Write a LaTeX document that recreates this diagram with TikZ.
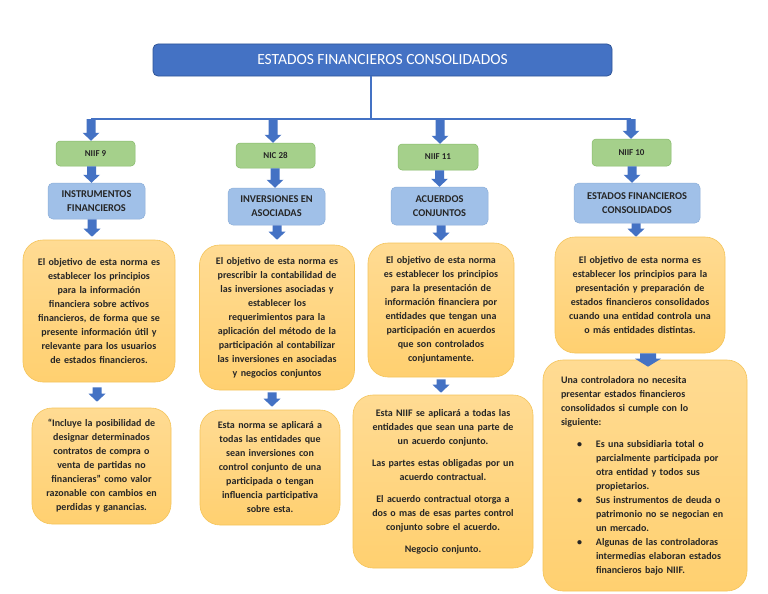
\documentclass[tikz,border=0pt]{standalone}
\usepackage{fontspec}
\setmainfont{Carlito}
\usetikzlibrary{calc}
\definecolor{arrowc}{HTML}{4472C4}
\definecolor{titlefill}{HTML}{4472C4}
\definecolor{titledraw}{HTML}{2F5597}
\definecolor{gfill}{HTML}{A5D08B}
\definecolor{gdraw}{HTML}{86BA69}
\definecolor{bfill}{HTML}{A0C0E8}
\definecolor{bdraw}{HTML}{8DAFD9}
\definecolor{ytop}{HTML}{FFDB93}
\definecolor{ybot}{HTML}{FFD070}
\definecolor{ydraw}{HTML}{F4C45A}
\definecolor{txt}{HTML}{262626}
\newcommand\barrow[4]{%
  \fill[arrowc] let \p1=(#1), \p2=(#2) in
    (\x2-#3,\y1) -- (\x2-#3,\y2+8pt) -- (\x2-#4,\y2+8pt) -- (\x2,\y2)
    -- (\x2+#4,\y2+8pt) -- (\x2+#3,\y2+8pt) -- (\x2+#3,\y1) -- cycle;}
\tikzset{
  box/.style={align=center, inner sep=0pt, text=txt},
  titlebox/.style={box, rounded corners=5pt, fill=titlefill, draw=titledraw, line width=0.8pt,
    text=white, font=\fontsize{15.5}{17}\selectfont},
  gbox/.style={box, rounded corners=4pt, fill=gfill, draw=gdraw, line width=0.5pt,
    font=\bfseries\fontsize{9}{10}\selectfont},
  bbox/.style={box, rounded corners=5pt, fill=bfill, draw=bdraw, line width=0.5pt,
    font=\bfseries\fontsize{10.4}{14}\selectfont},
  ybox/.style={box, rounded corners=20pt, top color=ytop, bottom color=ybot, draw=ydraw,
    line width=0.6pt, font=\bfseries\fontsize{10}{14}\selectfont},
  busline/.style={draw=arrowc, line width=1.8pt}
}
\begin{document}
\begin{tikzpicture}[x=1pt,y=-1pt]
\fill[white] (0,0) rectangle (768,594);
\useasboundingbox (0,0) rectangle (768,594);

% title
\node[titlebox, minimum width=459pt, minimum height=32pt] (title) at (382.5,60) {ESTADOS FINANCIEROS CONSOLIDADOS};

% green boxes
\node[gbox, minimum width=79pt, minimum height=25pt] (niif9) at (95.5,153.5) {NIIF 9};
\node[gbox, minimum width=79pt, minimum height=25pt] (nic28) at (275.5,155.5) {NIC 28};
\node[gbox, minimum width=80pt, minimum height=26pt] (niif11) at (438,157) {NIIF 11};
\node[gbox, minimum width=79pt, minimum height=27pt] (niif10) at (631.5,152.5) {NIIF 10};

% blue boxes
\node[bbox, minimum width=97pt, minimum height=36pt] (inst) at (96.5,201) {INSTRUMENTOS\\FINANCIEROS};
\node[bbox, minimum width=97pt, minimum height=37pt] (inv) at (276.5,206.5) {INVERSIONES EN\\ASOCIADAS};
\node[bbox, minimum width=97pt, minimum height=38pt] (acu) at (439.5,206) {ACUERDOS\\CONJUNTOS};
\node[bbox, minimum width=126pt, minimum height=40pt] (est) at (637,203) {ESTADOS FINANCIEROS\\CONSOLIDADOS};

% yellow boxes, first row
\node[ybox, minimum width=152pt, minimum height=142pt, text width=146pt] (y1) at (99,311)
 {El objetivo de esta norma es\\ establecer los principios\\ para la información\\ financiera sobre activos\\ financieros, de forma que se\\ presente información útil y\\ relevante para los usuarios\\ de estados financieros.};
\node[ybox, minimum width=155pt, minimum height=145pt, text width=149pt] (y2) at (277,317.5)
 {El objetivo de esta norma es\\ prescribir la contabilidad de\\ las inversiones asociadas y\\ establecer los\\ requerimientos para la\\ aplicación del método de la\\ participación al contabilizar\\ las inversiones en asociadas\\ y negocios conjuntos};
\node[ybox, minimum width=146pt, minimum height=134pt, text width=140pt] (y3) at (441,310)
 {El objetivo de esta norma\\ es establecer los principios\\ para la presentación de\\ información financiera por\\ entidades que tengan una\\ participación en acuerdos\\ que son controlados\\ conjuntamente.};
\node[ybox, minimum width=170pt, minimum height=116pt, text width=164pt] (y4) at (640,295)
 {El objetivo de esta norma es\\ establecer los principios para la\\ presentación y preparación de\\ estados financieros consolidados\\ cuando una entidad controla una\\ o más entidades distintas.};

% yellow boxes, second row
\node[ybox, minimum width=139pt, minimum height=116pt, text width=133pt] (b1) at (101.5,466)
 {“Incluye la posibilidad de\\ designar determinados\\ contratos de compra o\\ venta de partidas no\\ financieras” como valor\\ razonable con cambios en\\ perdidas y ganancias.};
\node[ybox, minimum width=140pt, minimum height=115pt, text width=134pt] (b2) at (270,467.5)
 {Esta norma se aplicará a\\ todas las entidades que\\ sean inversiones con\\ control conjunto de una\\ participada o tengan\\ influencia participativa\\ sobre esta.};
\node[ybox, minimum width=180pt, minimum height=173pt, text width=174pt] (b3) at (443,481.5)
 {Esta NIIF se aplicará a todas las\\ entidades que sean una parte de\\ un acuerdo conjunto.\\[8pt] Las partes estas obligadas por un\\ acuerdo contractual.\\[8pt] El acuerdo contractual otorga a\\ dos o mas de esas partes control\\ conjunto sobre el acuerdo.\\[8pt] Negocio conjunto.};
\node[ybox, align=left, minimum width=204pt, minimum height=231pt, text width=168pt] (b4) at (645,475.5)
 {\mbox{Una controladora no necesita}\\ \mbox{presentar estados financieros}\\ \mbox{consolidados si cumple con lo}\\ \mbox{siguiente:}\\[8pt]
  \mbox{\hspace*{16pt}\makebox[19pt][l]{\textbullet}Es una subsidiaria total o}\\
  \mbox{\hspace*{35pt}parcialmente participada por}\\
  \mbox{\hspace*{35pt}otra entidad y todos sus}\\
  \mbox{\hspace*{35pt}propietarios.}\\
  \mbox{\hspace*{16pt}\makebox[19pt][l]{\textbullet}Sus instrumentos de deuda o}\\
  \mbox{\hspace*{35pt}patrimonio no se negocian en}\\
  \mbox{\hspace*{35pt}un mercado.}\\
  \mbox{\hspace*{16pt}\makebox[19pt][l]{\textbullet}Algunas de las controladoras}\\
  \mbox{\hspace*{35pt}intermedias elaboran estados}\\
  \mbox{\hspace*{35pt}financieros bajo NIIF.}};

% bus lines
\coordinate (join) at (371,119);
\coordinate (bus1) at (91,119);
\coordinate (bus2) at (273,119);
\coordinate (bus3) at (440,119);
\coordinate (bus4) at (631,119);
\draw[busline] (title.south -| join) -- (join);
\draw[busline] (bus1) -- (bus4);

% arrows from bus
\barrow{bus1}{niif9.north -| bus1}{4.5pt}{8.5pt}
\barrow{bus2}{nic28.north -| bus2}{4.5pt}{8.5pt}
\barrow{bus3}{niif11.north -| bus3}{4.5pt}{8.5pt}
\barrow{bus4}{niif10.north -| bus4}{4.5pt}{8.5pt}

% column 1
\barrow{niif9.south}{[xshift=-5pt]inst.north}{4.5pt}{8.5pt}
\barrow{inst.south}{[xshift=-7pt,yshift=3pt]y1.north}{4.5pt}{8.5pt}
\barrow{[yshift=-5pt]y1.south}{[xshift=-4.5pt,yshift=6pt]b1.north}{4.5pt}{8.5pt}

% column 2
\barrow{nic28.south}{[xshift=-1.5pt]inv.north}{4.5pt}{8.5pt}
\barrow{inv.south}{[yshift=5pt]y2.north}{4.5pt}{8.5pt}
\barrow{[yshift=-2pt]y2.south}{[xshift=2pt,yshift=3pt]b2.north}{4.5pt}{8.5pt}

% column 3
\barrow{niif11.south}{acu.north}{4.5pt}{8.5pt}
\barrow{acu.south}{[yshift=2pt]y3.north}{4.5pt}{8.5pt}
\barrow{[yshift=-2pt]y3.south}{[xshift=-2pt,yshift=2pt]b3.north}{4.5pt}{8.5pt}

% column 4
\barrow{niif10.south}{[xshift=-5pt]est.north}{4.5pt}{8.5pt}
\barrow{est.south}{[xshift=-4pt]y4.north}{4.5pt}{8.5pt}
\coordinate (t4) at ([xshift=8pt,yshift=-7pt]y4.south |- b4.north);
\barrow{y4.south -| t4}{t4}{8pt}{13pt}
\end{tikzpicture}
\end{document}
